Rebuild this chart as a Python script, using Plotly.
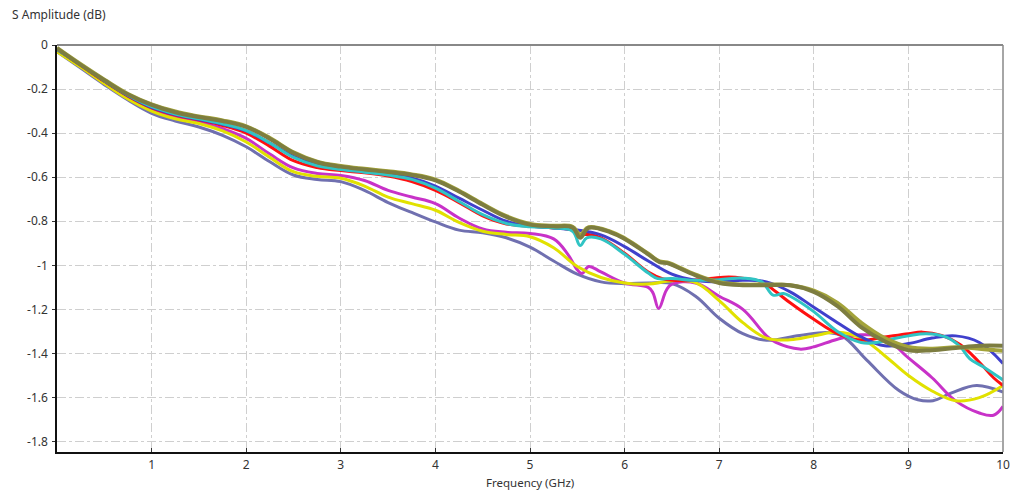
import plotly.graph_objects as go

base_f = [0, 0.25, 0.5, 0.75, 1, 1.25, 1.5, 1.75, 2, 2.25, 2.5, 2.75, 3, 3.25, 3.5, 3.75, 4, 4.25, 4.5, 4.75, 5]

freq_slate = base_f + [5.25, 5.5, 5.75, 6.0, 6.25, 6.5, 6.75, 7.0, 7.25, 7.5, 7.85, 8.15, 8.3, 8.56, 8.9, 9.1, 9.26, 9.45, 9.72, 10]
amp_slate = [-0.03, -0.105, -0.18, -0.25, -0.31, -0.345, -0.372, -0.41, -0.462, -0.53, -0.59, -0.61, -0.62, -0.66, -0.715, -0.76, -0.803, -0.84, -0.852, -0.875, -0.917,
             -0.98, -1.04, -1.075, -1.083, -1.08, -1.083, -1.14, -1.24, -1.31, -1.34, -1.318, -1.305, -1.32, -1.43, -1.568, -1.61, -1.614, -1.58, -1.545, -1.575]

freq_magenta = base_f + [5.25, 5.4, 5.5, 5.55, 5.62, 5.75, 6.0, 6.25, 6.3, 6.36, 6.44, 6.5, 6.75, 7.0, 7.25, 7.5, 7.6, 7.85, 8.0, 8.25, 8.5, 8.75, 9.0, 9.25, 9.5, 9.75, 9.9, 10]
amp_magenta = [-0.025, -0.095, -0.172, -0.24, -0.293, -0.327, -0.35, -0.38, -0.424, -0.495, -0.558, -0.583, -0.592, -0.615, -0.66, -0.69, -0.72, -0.785, -0.835, -0.85, -0.855,
               -0.88, -0.95, -1.02, -1.037, -1.005, -1.03, -1.08, -1.1, -1.125, -1.196, -1.114, -1.085, -1.08, -1.14, -1.2, -1.32, -1.35, -1.38, -1.37, -1.335, -1.315, -1.33, -1.42, -1.51, -1.615, -1.67, -1.68, -1.64]

freq_yellow = base_f + [5.25, 5.5, 5.75, 6.0, 6.25, 6.5, 6.75, 7.0, 7.25, 7.5, 7.75, 8.0, 8.25, 8.5, 8.75, 9.0, 9.25, 9.5, 9.75, 10]
amp_yellow = [-0.03, -0.1, -0.175, -0.245, -0.3, -0.335, -0.356, -0.39, -0.44, -0.51, -0.575, -0.596, -0.605, -0.64, -0.69, -0.72, -0.75, -0.805, -0.845, -0.86, -0.87,
              -0.92, -1.005, -1.055, -1.08, -1.085, -1.07, -1.078, -1.16, -1.26, -1.33, -1.338, -1.32, -1.303, -1.33, -1.41, -1.5, -1.57, -1.614, -1.6, -1.545]

freq_red = base_f + [5.25, 5.45, 5.53, 5.62, 5.75, 6.0, 6.25, 6.4, 6.6, 6.9, 7.1, 7.25, 7.45, 7.6, 7.75, 8.0, 8.25, 8.5, 8.75, 9.0, 9.15, 9.35, 9.55, 9.75, 9.9, 10]
amp_red = [-0.02, -0.092, -0.165, -0.232, -0.285, -0.318, -0.34, -0.365, -0.4, -0.46, -0.525, -0.556, -0.57, -0.58, -0.595, -0.62, -0.66, -0.715, -0.775, -0.812, -0.822,
           -0.83, -0.84, -0.86, -0.86, -0.875, -0.945, -1.03, -1.06, -1.07, -1.06, -1.053, -1.058, -1.075, -1.12, -1.17, -1.245, -1.31, -1.34, -1.325, -1.31, -1.303, -1.318, -1.36, -1.44, -1.51, -1.545]

freq_blue = base_f + [5.25, 5.5, 5.75, 6.0, 6.25, 6.5, 6.75, 7.0, 7.25, 7.5, 7.75, 8.0, 8.25, 8.5, 8.75, 9.0, 9.25, 9.5, 9.75, 10]
amp_blue = [-0.02, -0.09, -0.163, -0.23, -0.283, -0.316, -0.338, -0.36, -0.39, -0.445, -0.505, -0.543, -0.563, -0.575, -0.585, -0.603, -0.64, -0.695, -0.75, -0.8, -0.822,
            -0.83, -0.84, -0.862, -0.915, -0.98, -1.04, -1.068, -1.075, -1.068, -1.075, -1.12, -1.19, -1.26, -1.325, -1.365, -1.355, -1.33, -1.32, -1.35, -1.445]

freq_cyan = base_f + [5.25, 5.45, 5.53, 5.6, 5.75, 6.0, 6.25, 6.35, 6.5, 6.75, 7.0, 7.25, 7.45, 7.57, 7.68, 7.75, 8.0, 8.25, 8.5, 8.66, 8.84, 9.0, 9.19, 9.4, 9.55, 9.65, 9.79, 10]
amp_cyan = [-0.02, -0.09, -0.162, -0.228, -0.28, -0.313, -0.335, -0.357, -0.388, -0.445, -0.51, -0.548, -0.565, -0.577, -0.59, -0.61, -0.65, -0.71, -0.77, -0.81, -0.825,
            -0.83, -0.845, -0.91, -0.875, -0.88, -0.95, -1.035, -1.06, -1.06, -1.068, -1.065, -1.058, -1.075, -1.135, -1.128, -1.14, -1.21, -1.3, -1.35, -1.35, -1.333, -1.32, -1.31, -1.326, -1.37, -1.424, -1.46, -1.52]

freq_olive = base_f + [5.25, 5.45, 5.53, 5.62, 5.85, 6.0, 6.25, 6.37, 6.45, 6.75, 7.0, 7.25, 7.5, 7.75, 8.0, 8.25, 8.5, 8.75, 9.0, 9.25, 9.5, 9.75, 10]
amp_khaki = [-0.013, -0.087, -0.157, -0.222, -0.269, -0.302, -0.324, -0.342, -0.369, -0.422, -0.487, -0.529, -0.549, -0.562, -0.573, -0.587, -0.611, -0.662, -0.722, -0.777, -0.812,
             -0.82, -0.825, -0.86, -0.827, -0.847, -0.877, -0.947, -0.982, -0.987, -1.042, -1.077, -1.087, -1.087, -1.09, -1.115, -1.17, -1.26, -1.33, -1.37, -1.378, -1.372, -1.378, -1.388]
amp_olive = [-0.015, -0.09, -0.16, -0.225, -0.272, -0.305, -0.327, -0.345, -0.372, -0.425, -0.49, -0.532, -0.552, -0.565, -0.576, -0.59, -0.614, -0.665, -0.725, -0.78, -0.815,
             -0.823, -0.828, -0.875, -0.83, -0.85, -0.88, -0.95, -0.985, -0.99, -1.045, -1.08, -1.09, -1.09, -1.09, -1.12, -1.185, -1.28, -1.345, -1.385, -1.385, -1.375, -1.365, -1.365]

series = [
    ("slate", freq_slate, amp_slate, "#7070b0", 3),
    ("magenta", freq_magenta, amp_magenta, "#c832c8", 3),
    ("yellow", freq_yellow, amp_yellow, "#e1e100", 3),
    ("red", freq_red, amp_red, "#ff1010", 3),
    ("blue", freq_blue, amp_blue, "#4040cc", 3),
    ("cyan", freq_cyan, amp_cyan, "#30c4c4", 3),
    ("khaki", freq_olive, amp_khaki, "#a3a33a", 4),
    ("olive", freq_olive, amp_olive, "#7d7d40", 4),
]

x_ticks = [1, 2, 3, 4, 5, 6, 7, 8, 9, 10]
y_ticks = [0, -0.2, -0.4, -0.6, -0.8, -1, -1.2, -1.4, -1.6, -1.8]
y_ticktext = ["0", "-0.2", "-0.4", "-0.6", "-0.8", "-1", "-1.2", "-1.4", "-1.6", "-1.8"]

fig = go.Figure()
for name, fx, fy, color, w in series:
    fig.add_trace(go.Scatter(x=fx, y=fy, mode="lines", name=name,
                             line=dict(color=color, width=w, shape="spline", smoothing=1.1),
                             showlegend=False, hoverinfo="skip"))

font = dict(family="Noto Sans, Open Sans, sans-serif", size=12, color="#333333")
fig.update_layout(
    width=1014, height=491,
    margin=dict(l=57, r=11, t=45, b=39, autoexpand=False),
    paper_bgcolor="white", plot_bgcolor="white",
    font=font,
    xaxis=dict(range=[0, 10], tickvals=x_ticks, showgrid=True, gridcolor="#cfcfcf",
               griddash="dashdot", gridwidth=1, showline=True, linecolor="#111111", linewidth=1.5,
               ticks="inside", ticklen=4, tickcolor="#333", zeroline=False, automargin=False,
               ticklabelstandoff=1),
    yaxis=dict(range=[-1.847, 0], tickvals=y_ticks, ticktext=y_ticktext, showgrid=True,
               gridcolor="#cfcfcf", griddash="dashdot", gridwidth=1, showline=True,
               linecolor="#111111", linewidth=1.5, ticks="outside", ticklen=3, tickcolor="#333",
               zeroline=False, automargin=False, ticklabelstandoff=2),
    shapes=[
        dict(type="line", xref="paper", yref="paper", x0=0, x1=1, y0=1, y1=1,
             line=dict(color="#888888", width=2)),
        dict(type="line", xref="paper", yref="paper", x0=1, x1=1, y0=0, y1=1,
             line=dict(color="#888888", width=1.5)),
    ],
    annotations=[
        dict(text="S Amplitude (dB)", xref="paper", yref="paper", x=(10 - 57) / 946, y=1.0 + 30 / 407,
             xanchor="left", yanchor="middle", showarrow=False, font=font),
        dict(text="Frequency (GHz)", xref="paper", yref="paper", x=0.5, y=-(491 - 452) / 407,
             xanchor="center", yanchor="bottom", showarrow=False, borderpad=0,
             font=dict(family="Noto Sans, Open Sans, sans-serif", size=11.5, color="#333333")),
    ],
)

fig.write_html("out.html", config={"displayModeBar": False},
               post_script="document.body.style.margin='0';document.body.style.overflow='hidden';")
